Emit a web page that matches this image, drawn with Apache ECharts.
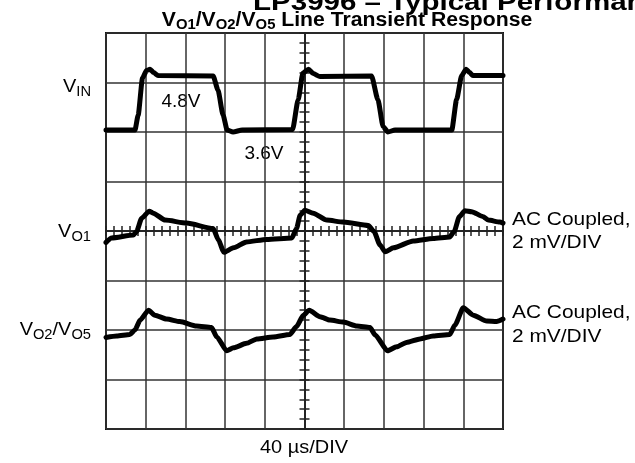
<!DOCTYPE html>
<html>
<head>
<meta charset="utf-8">
<script src="https://cdn.jsdelivr.net/npm/echarts@6/dist/echarts.min.js"></script>
<style>
  html, body { margin: 0; padding: 0; background: #fff; }
  #scope { width: 635px; height: 463px; }
</style>
</head>
<body>
<div id="scope"></div>
<script>
// traces, in divisions: [time div (0..10), level div (0..8 from bottom)]
var vinTrace = [
  [0, 6.04], [0.73, 6.04], [0.81, 6.34], [0.92, 7.09], [1.02, 7.24], [1.11, 7.27], [1.2, 7.2], [1.31, 7.14],
  [2.7, 7.13], [2.82, 6.85], [2.95, 6.34], [3.05, 6.04], [3.2, 6.0], [3.43, 6.04],
  [4.7, 6.05], [4.84, 6.65], [4.96, 7.19], [5.1, 7.27], [5.22, 7.18], [5.39, 7.12],
  [6.69, 7.13], [6.85, 6.65], [6.98, 6.11], [7.1, 6.0], [7.28, 6.04],
  [8.71, 6.04], [8.83, 6.65], [8.96, 7.14], [9.07, 7.27], [9.16, 7.2], [9.24, 7.14], [10, 7.14]
];
var vo1Trace = [
  [0, 3.77], [0.14, 3.86], [0.69, 3.92], [0.77, 3.99], [0.9, 4.26], [1.09, 4.4], [1.19, 4.36], [1.49, 4.22],
  [2.03, 4.16], [2.7, 4.05], [2.83, 3.82], [2.97, 3.57], [3.21, 3.66], [3.54, 3.78], [4.05, 3.83], [4.68, 3.86],
  [4.8, 4.05], [4.89, 4.32], [5.01, 4.42], [5.22, 4.36], [5.56, 4.22], [5.98, 4.18], [6.61, 4.11], [6.75, 3.99],
  [6.9, 3.72], [7.03, 3.58], [7.24, 3.66], [7.74, 3.8], [8.24, 3.85], [8.66, 3.88], [8.77, 3.99], [8.9, 4.29],
  [9.04, 4.41], [9.21, 4.39], [9.5, 4.29], [9.63, 4.22], [9.92, 4.18], [10, 4.16]
];
var vo2Trace = [
  [0, 1.85], [0.27, 1.88], [0.6, 1.91], [0.73, 2.0], [0.86, 2.2], [1.07, 2.4], [1.23, 2.3], [1.53, 2.22],
  [1.86, 2.17], [2.28, 2.08], [2.66, 2.05], [2.79, 1.86], [3.04, 1.58], [3.21, 1.64], [3.54, 1.73], [3.8, 1.82],
  [4.21, 1.86], [4.63, 1.91], [4.8, 2.07], [4.97, 2.3], [5.12, 2.4], [5.39, 2.27], [5.64, 2.2], [5.98, 2.16],
  [6.32, 2.08], [6.65, 2.05], [6.78, 1.9], [7.09, 1.58], [7.32, 1.66], [7.57, 1.75], [7.91, 1.82], [8.24, 1.88],
  [8.66, 1.91], [8.79, 2.1], [9.0, 2.45], [9.25, 2.3], [9.59, 2.18], [9.84, 2.17], [10, 2.22]
];
var xDivs = 10, yDivs = 8;

var FONT = "'Liberation Sans', Arial, sans-serif";
var INK = '#000';

// screen is centered on 0 so the middle axes can sit on zero
function centered(trace) {
  return trace.map(function (p) { return [p[0] - xDivs / 2, p[1] - yDivs / 2]; });
}

function centerAxis(pos, grid) {
  return {
    type: 'value',
    position: pos,
    min: pos === 'left' || pos === 'right' ? -yDivs / 2 : -xDivs / 2,
    max: pos === 'left' || pos === 'right' ? yDivs / 2 : xDivs / 2,
    interval: 1,
    axisLine: { show: true, onZero: true, onZeroAxisIndex: 0, lineStyle: { color: '#222', width: 1.5 } },
    axisTick: { show: true, length: 5, lineStyle: { color: '#222', width: 1.5 } },
    minorTick: { show: true, splitNumber: 5, length: 5, lineStyle: { color: '#222', width: 1.5 } },
    axisLabel: { show: false },
    splitLine: { show: grid, lineStyle: { color: '#333', width: 1.5 } }
  };
}

function trace(data) {
  return {
    type: 'line',
    data: centered(data),
    showSymbol: false,
    smooth: 0.2,
    smoothMonotone: 'x',
    lineStyle: { color: INK, width: 5, cap: 'round', join: 'round' },
    silent: true
  };
}

// plain text label
function label(x, y, text, align, size, sx) {
  return {
    type: 'text', x: x, y: y, scaleX: sx || 1,
    style: { text: text, x: 0, y: 0, fill: INK, font: (size || 19) + 'px ' + FONT,
      textAlign: align || 'left', textVerticalAlign: 'middle', verticalAlign: 'middle' }
  };
}

// label with subscripts, parts = [[main, sub], ...]
function subLabel(x, y, parts, align, bold, size, subSize, sx) {
  var txt = parts.map(function (p) { return '{m|' + p[0] + '}{s|' + p[1] + '}'; }).join('');
  if (parts.tail) txt += '{m|' + parts.tail + '}';
  var w = bold ? 'bold' : 'normal';
  return {
    type: 'text', x: x, y: y, scaleX: sx || 1,
    style: {
      text: txt, x: 0, y: 0, textAlign: align, textVerticalAlign: 'middle', verticalAlign: 'middle',
      rich: {
        m: { fill: INK, fontFamily: FONT, fontWeight: w, fontSize: size, lineHeight: 24 },
        s: { fill: INK, fontFamily: FONT, fontWeight: w, fontSize: subSize, lineHeight: 16, verticalAlign: 'bottom' }
      }
    }
  };
}

var titleParts = [['V', 'O1'], ['/V', 'O2'], ['/V', 'O5']];
titleParts.tail = ' Line Transient Response';

var myChart = echarts.init(document.getElementById('scope'));
myChart.setOption({
  animation: false,
  backgroundColor: '#fff',
  grid: { left: 106, right: 132, top: 33, bottom: 34, show: true, borderColor: '#111', borderWidth: 2 },
  xAxis: [centerAxis('bottom', true), centerAxis('top', false)],
  yAxis: [centerAxis('left', true), centerAxis('right', false)],
  series: [trace(vinTrace), trace(vo1Trace), trace(vo2Trace)],
  graphic: [
    // page heading cut off at the top edge
    {
      type: 'text', x: 253, y: 3, scaleX: 1.23,
      style: { text: 'LP3996 \u2013 Typical Performance Characteristics', x: 0, y: 0, fill: INK,
        font: 'bold 24px ' + FONT, textAlign: 'left', textVerticalAlign: 'middle', verticalAlign: 'middle' }
    },
    subLabel(347, 20, titleParts, 'center', true, 20, 14, 1.06),
    subLabel(91, 87, [['V', 'IN']], 'right', false, 19, 14, 1.05),
    subLabel(91, 232, [['V', 'O1']], 'right', false, 19, 14, 1.05),
    subLabel(91, 330, [['V', 'O2'], ['/V', 'O5']], 'right', false, 19, 14, 1.05),
    label(181, 102, '4.8V', 'center'),
    label(264, 154, '3.6V', 'center'),
    label(512, 220, 'AC Coupled,', 'left', 19, 1.1),
    label(512, 243, '2 mV/DIV', 'left', 19, 1.1),
    label(512, 313, 'AC Coupled,', 'left', 19, 1.1),
    label(512, 337, '2 mV/DIV', 'left', 19, 1.1),
    label(304, 448, '40 \u00b5s/DIV', 'center', 19, 1.05)
  ]
});
</script>
</body>
</html>
